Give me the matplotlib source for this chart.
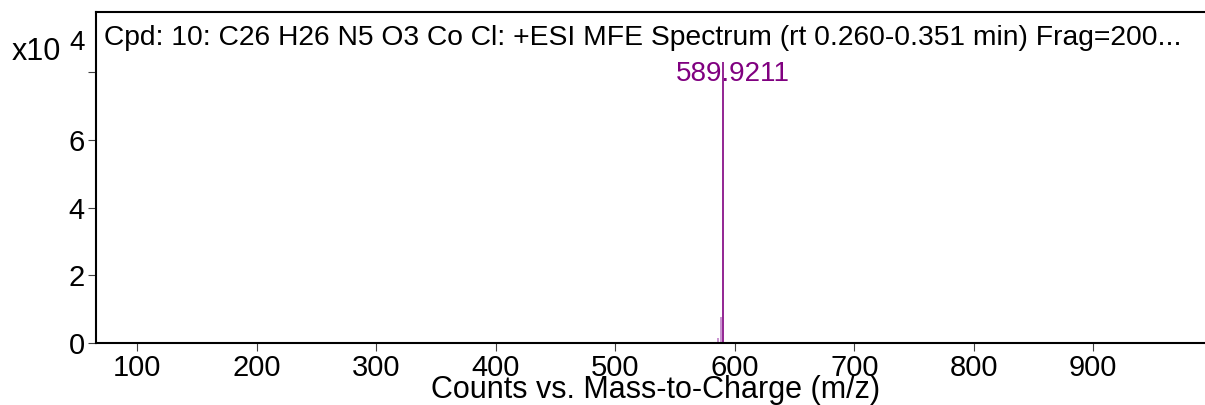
import matplotlib
matplotlib.use("Agg")
import matplotlib.pyplot as plt

plt.rcParams['font.family'] = ['Liberation Sans', 'DejaVu Sans']

# peaks (m/z, counts in units of 1e4)
mz = [585.7, 588.6, 589.9211]
counts = [0.15, 0.77, 8.3]
peak_colors = ['#c080c8', '#c080c8', '#800080']
peak_label = "589.9211"

title = "Cpd: 10: C26 H26 N5 O3 Co Cl: +ESI MFE Spectrum (rt 0.260-0.351 min) Frag=200..."
xticks = [100, 200, 300, 400, 500, 600, 700, 800, 900]
yticks = [0, 2, 4, 6, 8]
ytick_labels = ['0', '2', '4', '6', '']

fig = plt.figure(figsize=(12.05, 4.05), dpi=100)
ax = fig.add_axes([96 / 1205, 1 - 343 / 405, 1 - 96 / 1205, 331 / 405])

ax.vlines(mz, 0, counts, colors=peak_colors, linewidth=1.2)
ax.annotate(peak_label, (mz[2], counts[2]), xytext=(7, 1), textcoords='offset points',
            color='#800080', fontsize=20, ha='center', va='top')

ax.set_xlim(65.4, 993.5)
ax.set_ylim(0, 9.78)
ax.set_xticks(xticks)
ax.set_xticklabels([str(t) for t in xticks], fontsize=21)
ax.set_yticks(yticks)
ax.set_yticklabels(ytick_labels, fontsize=21)
ax.tick_params(length=6, width=0.8, color='#404040', pad=2)

for s in ['left', 'bottom', 'top']:
    ax.spines[s].set_linewidth(1.5)
ax.spines['right'].set_visible(False)

ax.text(0.007, 0.96, title, transform=ax.transAxes, fontsize=20.3,
        ha='left', va='top')
fig.text(12 / 1205, 1 - 60 / 405, "x10", fontsize=22, ha='left', va='baseline')
fig.text(69 / 1205, 1 - 50 / 405, "4", fontsize=20, ha='left', va='baseline')

fig.text(656 / 1205, 1 - 398 / 405, "Counts vs. Mass-to-Charge (m/z)",
         fontsize=22, ha='center', va='baseline')

fig.savefig("out.png", dpi=100)
